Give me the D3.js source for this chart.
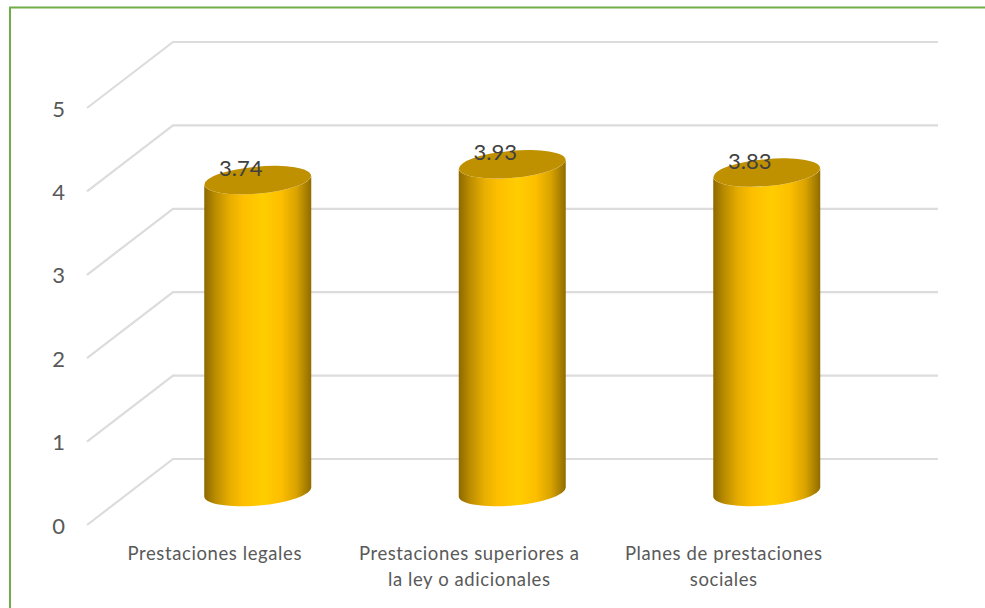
<!DOCTYPE html>
<html>
<head>
<meta charset="utf-8">
<script src="https://cdn.jsdelivr.net/npm/d3@7"></script>
<style>
  html, body { margin: 0; padding: 0; background: #fff; }
  text { font-family: Lato, "Open Sans", sans-serif; }
</style>
</head>
<body>
<div id="chart"></div>
<script>
// Chart data
const categories = ["Prestaciones legales", "Prestaciones superiores a la ley o adicionales", "Planes de prestaciones sociales"];
const categoryLines = [["Prestaciones legales"], ["Prestaciones superiores a", "la ley o adicionales"], ["Planes de prestaciones", "sociales"]];
const values = [3.74, 3.93, 3.83];
const yTicks = [0, 1, 2, 3, 4, 5];

const totalWidth = 985, totalHeight = 608;

// Front edge of the 3D floor, the back wall sits depth px away
const depth = { x: 86, y: -66 };
const x = d3.scaleBand().domain(categories).range([87.5, 851]);
const y = d3.scaleLinear().domain([0, 5]).range([525, 108]);

// Cylinder shape
const rx = 53.5, ry = 13.5, tilt = -5;
const tiltDy = rx * Math.tan(tilt * Math.PI / 180);

const svg = d3.select("#chart").append("svg")
    .attr("width", totalWidth)
    .attr("height", totalHeight)
    .style("display", "block");

// Gradient for the cylinder body
const defs = svg.append("defs");
const bodyGrad = defs.append("linearGradient").attr("id", "body");
[[0, "#8c6900"], [0.1, "#b98b00"], [0.24, "#e8ae00"], [0.36, "#fdbe00"], [0.55, "#ffcd00"], [0.72, "#fdbe00"], [0.86, "#d9a300"], [1, "#8f6c00"]]
    .forEach(d => bodyGrad.append("stop").attr("offset", d[0]).attr("stop-color", d[1]));

// Green frame of the original picture
svg.append("path")
    .attr("d", `M10,${totalHeight} V7.5 H${totalWidth}`)
    .attr("fill", "none")
    .attr("stroke", "#70ad47")
    .attr("stroke-width", 2);

// Grid lines, diagonal side wall + back wall
svg.append("g").selectAll("path")
    .data(yTicks)
    .join("path")
    .attr("d", d => `M87,${y(d)} L${87 + depth.x},${y(d) + depth.y} H938`)
    .attr("fill", "none")
    .attr("stroke", "#dcdcdc")
    .attr("stroke-width", 2.2);

// Y axis labels
const yAxis = svg.append("g")
    .attr("transform", "translate(71,1)")
    .call(d3.axisLeft(y).tickValues(yTicks).tickSize(0).tickPadding(6).tickFormat(d3.format("d")));
yAxis.select(".domain").remove();
yAxis.selectAll("text")
    .attr("font-size", 22)
    .attr("fill", "#595959")
    .style("font-family", "Lato, sans-serif");

// X axis labels
const xAxis = svg.append("g")
    .attr("transform", "translate(0,542)")
    .call(d3.axisBottom(x).tickSize(0).tickPadding(0).tickFormat(""));
xAxis.select(".domain").remove();
xAxis.selectAll(".tick text")
    .attr("y", 0)
    .attr("dy", 0)
    .attr("font-size", 18.5)
    .attr("fill", "#595959")
    .style("font-family", "Lato, sans-serif")
    .style("letter-spacing", "0.6px")
    .each(function(d, i) {
        d3.select(this).selectAll("tspan")
            .data(categoryLines[i])
            .join("tspan")
            .attr("x", 0)
            .attr("y", (l, j) => 18 + j * 25.5)
            .text(l => l);
    });

// Bars
const barCenterX = d => x(d) + x.bandwidth() / 2 + depth.x / 2;
const barY = v => y(v) + depth.y / 2;

const bars = svg.append("g").selectAll("g")
    .data(categories.map((c, i) => ({ name: c, value: values[i] })))
    .join("g")
    .attr("transform", d => `translate(${barCenterX(d.name)},0)`);

bars.append("path")
    .attr("d", d => {
        const top = barY(d.value), base = barY(0);
        return `M${-rx},${top - tiltDy} V${base - tiltDy}`
            + ` A${rx},${ry} ${tilt} 0 0 ${rx},${base + tiltDy}`
            + ` V${top + tiltDy}`
            + ` A${rx},${ry} ${tilt} 0 1 ${-rx},${top - tiltDy} Z`;
    })
    .attr("fill", "url(#body)");

bars.append("ellipse")
    .attr("rx", rx)
    .attr("ry", ry)
    .attr("transform", d => `translate(0,${barY(d.value)}) rotate(${tilt})`)
    .attr("fill", "#bf9000");

// Data labels
bars.append("text")
    .attr("x", -17)
    .attr("y", d => barY(d.value) - 4)
    .attr("text-anchor", "middle")
    .attr("font-size", 22)
    .attr("fill", "#404040")
    .text(d => d.value);
</script>
</body>
</html>
